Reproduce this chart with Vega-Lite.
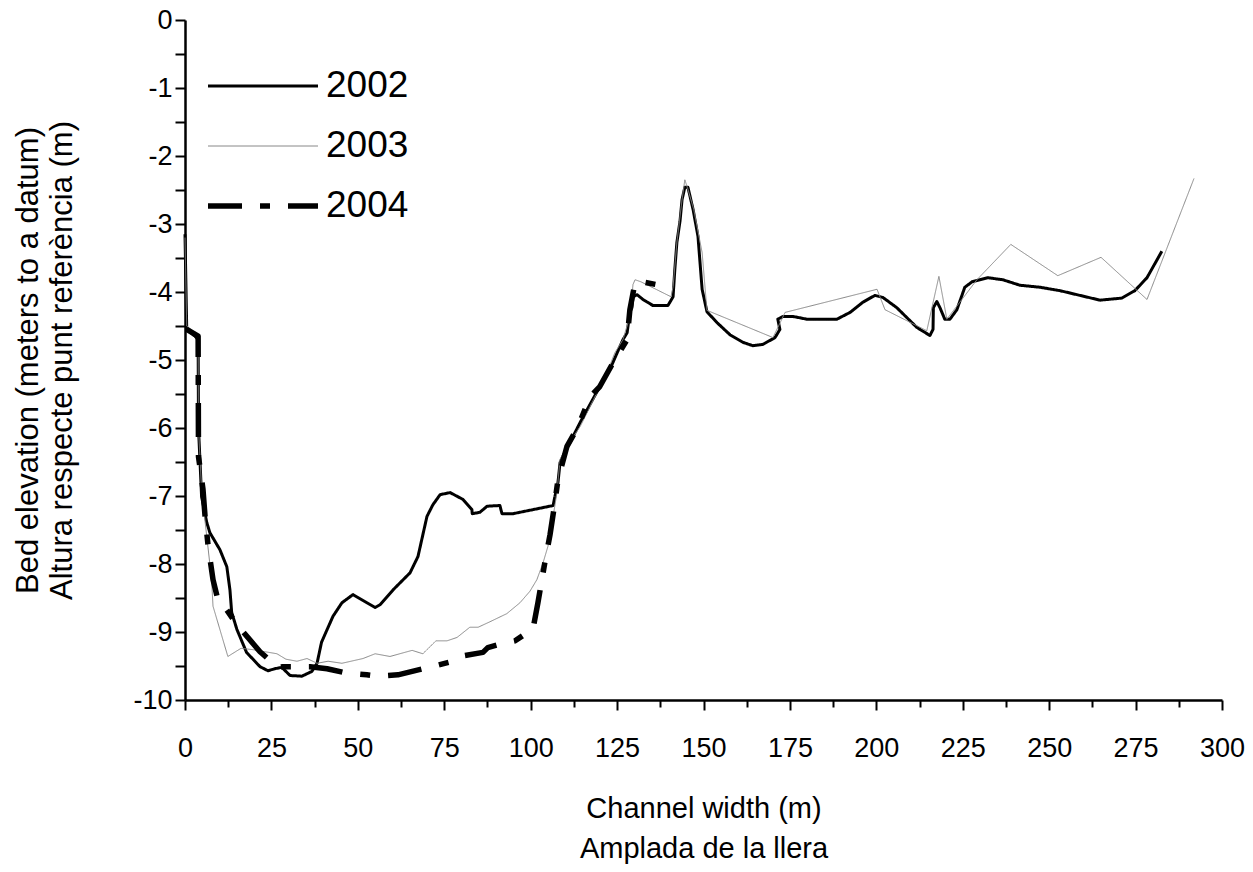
{
  "$schema": "https://vega.github.io/schema/vega-lite/v6.json",
  "width": 1037,
  "height": 680,
  "autosize": {"type": "none"},
  "padding": {"left": 185, "top": 20, "right": 31, "bottom": 172},
  "background": "white",
  "config": {
    "view": {"stroke": null},
    "font": "Liberation Sans",
    "axis": {"labelFont": "Liberation Sans", "titleFont": "Liberation Sans", "labelColor": "black", "titleColor": "black", "domainColor": "black", "tickColor": "black", "grid": false, "titleFontWeight": "normal"}
  },
  "data": {"values": [
    {"year":"2002","x":0,"y":-3.15},{"year":"2002","x":0.5,"y":-4.55},{"year":"2002","x":2.9,"y":-4.65},{"year":"2002","x":3.8,"y":-4.7},{"year":"2002","x":3.9,"y":-6.0},{"year":"2002","x":4.8,"y":-7.01},{"year":"2002","x":6.3,"y":-7.39},{"year":"2002","x":7.2,"y":-7.54},{"year":"2002","x":10.1,"y":-7.79},{"year":"2002","x":12.1,"y":-8.04},{"year":"2002","x":13.0,"y":-8.38},{"year":"2002","x":13.5,"y":-8.71},{"year":"2002","x":15.0,"y":-8.96},{"year":"2002","x":17.8,"y":-9.3},{"year":"2002","x":21.7,"y":-9.51},{"year":"2002","x":24.0,"y":-9.57},{"year":"2002","x":26.0,"y":-9.54},{"year":"2002","x":28.0,"y":-9.52},{"year":"2002","x":30.4,"y":-9.64},{"year":"2002","x":33.8,"y":-9.65},{"year":"2002","x":36.7,"y":-9.58},{"year":"2002","x":38.2,"y":-9.46},{"year":"2002","x":39.5,"y":-9.15},{"year":"2002","x":42.8,"y":-8.77},{"year":"2002","x":45.4,"y":-8.57},{"year":"2002","x":48.6,"y":-8.45},{"year":"2002","x":52.6,"y":-8.57},{"year":"2002","x":55.0,"y":-8.64},{"year":"2002","x":56.4,"y":-8.6},{"year":"2002","x":60.2,"y":-8.38},{"year":"2002","x":65.1,"y":-8.13},{"year":"2002","x":67.4,"y":-7.89},{"year":"2002","x":70.0,"y":-7.3},{"year":"2002","x":71.7,"y":-7.13},{"year":"2002","x":73.8,"y":-6.98},{"year":"2002","x":76.7,"y":-6.95},{"year":"2002","x":80.4,"y":-7.05},{"year":"2002","x":83.0,"y":-7.2},{"year":"2002","x":83.1,"y":-7.26},{"year":"2002","x":85.3,"y":-7.24},{"year":"2002","x":87.4,"y":-7.15},{"year":"2002","x":91.1,"y":-7.14},{"year":"2002","x":91.7,"y":-7.26},{"year":"2002","x":94.9,"y":-7.26},{"year":"2002","x":100.7,"y":-7.2},{"year":"2002","x":106.5,"y":-7.14},{"year":"2002","x":107.0,"y":-7.01},{"year":"2002","x":107.9,"y":-6.8},{"year":"2002","x":108.5,"y":-6.51},{"year":"2002","x":109.3,"y":-6.42},{"year":"2002","x":111.4,"y":-6.21},{"year":"2002","x":114.3,"y":-5.92},{"year":"2002","x":120.0,"y":-5.39},{"year":"2002","x":122.9,"y":-5.14},{"year":"2002","x":126.7,"y":-4.7},{"year":"2002","x":127.9,"y":-4.6},{"year":"2002","x":128.7,"y":-4.3},{"year":"2002","x":129.3,"y":-4.23},{"year":"2002","x":129.6,"y":-4.07},{"year":"2002","x":130.8,"y":-4.04},{"year":"2002","x":132.5,"y":-4.11},{"year":"2002","x":135.4,"y":-4.2},{"year":"2002","x":139.7,"y":-4.2},{"year":"2002","x":141.2,"y":-4.07},{"year":"2002","x":141.7,"y":-3.67},{"year":"2002","x":142.3,"y":-3.27},{"year":"2002","x":143.2,"y":-2.96},{"year":"2002","x":143.8,"y":-2.64},{"year":"2002","x":144.6,"y":-2.46},{"year":"2002","x":145.5,"y":-2.46},{"year":"2002","x":147.0,"y":-2.79},{"year":"2002","x":148.4,"y":-3.18},{"year":"2002","x":149.6,"y":-3.96},{"year":"2002","x":151.0,"y":-4.29},{"year":"2002","x":153.9,"y":-4.45},{"year":"2002","x":157.7,"y":-4.63},{"year":"2002","x":161.4,"y":-4.74},{"year":"2002","x":164.3,"y":-4.79},{"year":"2002","x":167.2,"y":-4.77},{"year":"2002","x":170.7,"y":-4.67},{"year":"2002","x":172.1,"y":-4.55},{"year":"2002","x":171.5,"y":-4.4},{"year":"2002","x":173.0,"y":-4.36},{"year":"2002","x":175.9,"y":-4.36},{"year":"2002","x":179.9,"y":-4.4},{"year":"2002","x":188.6,"y":-4.4},{"year":"2002","x":192.4,"y":-4.3},{"year":"2002","x":196.1,"y":-4.15},{"year":"2002","x":199.6,"y":-4.05},{"year":"2002","x":201.9,"y":-4.08},{"year":"2002","x":205.9,"y":-4.23},{"year":"2002","x":211.7,"y":-4.52},{"year":"2002","x":215.5,"y":-4.64},{"year":"2002","x":216.4,"y":-4.55},{"year":"2002","x":216.5,"y":-4.23},{"year":"2002","x":217.5,"y":-4.14},{"year":"2002","x":218.4,"y":-4.23},{"year":"2002","x":219.8,"y":-4.4},{"year":"2002","x":221.3,"y":-4.4},{"year":"2002","x":223.3,"y":-4.26},{"year":"2002","x":225.6,"y":-3.93},{"year":"2002","x":227.7,"y":-3.85},{"year":"2002","x":232.3,"y":-3.79},{"year":"2002","x":236.6,"y":-3.82},{"year":"2002","x":241.5,"y":-3.9},{"year":"2002","x":247.3,"y":-3.93},{"year":"2002","x":253.1,"y":-3.98},{"year":"2002","x":258.9,"y":-4.05},{"year":"2002","x":264.7,"y":-4.12},{"year":"2002","x":271.0,"y":-4.09},{"year":"2002","x":274.8,"y":-3.98},{"year":"2002","x":278.3,"y":-3.79},{"year":"2002","x":282.6,"y":-3.4},
    {"year":"2003","x":0,"y":-3.2},{"year":"2003","x":0.5,"y":-4.5},{"year":"2003","x":2.9,"y":-4.6},{"year":"2003","x":3.8,"y":-4.65},{"year":"2003","x":3.9,"y":-6.0},{"year":"2003","x":4.8,"y":-6.9},{"year":"2003","x":5.2,"y":-7.1},{"year":"2003","x":7.7,"y":-8.23},{"year":"2003","x":8.1,"y":-8.62},{"year":"2003","x":12.4,"y":-9.36},{"year":"2003","x":16.2,"y":-9.24},{"year":"2003","x":19.7,"y":-9.26},{"year":"2003","x":26.6,"y":-9.32},{"year":"2003","x":29.2,"y":-9.4},{"year":"2003","x":32.4,"y":-9.43},{"year":"2003","x":35.3,"y":-9.39},{"year":"2003","x":38.2,"y":-9.46},{"year":"2003","x":41.4,"y":-9.43},{"year":"2003","x":45.4,"y":-9.46},{"year":"2003","x":51.5,"y":-9.39},{"year":"2003","x":55.0,"y":-9.32},{"year":"2003","x":59.3,"y":-9.36},{"year":"2003","x":65.7,"y":-9.27},{"year":"2003","x":68.8,"y":-9.32},{"year":"2003","x":72.6,"y":-9.13},{"year":"2003","x":75.8,"y":-9.13},{"year":"2003","x":78.7,"y":-9.08},{"year":"2003","x":82.4,"y":-8.93},{"year":"2003","x":84.8,"y":-8.93},{"year":"2003","x":88.2,"y":-8.85},{"year":"2003","x":93.1,"y":-8.73},{"year":"2003","x":96.9,"y":-8.57},{"year":"2003","x":99.8,"y":-8.4},{"year":"2003","x":101.8,"y":-8.23},{"year":"2003","x":103.6,"y":-7.98},{"year":"2003","x":105.0,"y":-7.74},{"year":"2003","x":106.5,"y":-7.3},{"year":"2003","x":107.6,"y":-6.95},{"year":"2003","x":108.5,"y":-6.46},{"year":"2003","x":110.5,"y":-6.27},{"year":"2003","x":114.3,"y":-5.98},{"year":"2003","x":119.2,"y":-5.48},{"year":"2003","x":122.1,"y":-5.18},{"year":"2003","x":124.4,"y":-4.89},{"year":"2003","x":126.7,"y":-4.7},{"year":"2003","x":128.7,"y":-4.36},{"year":"2003","x":129.6,"y":-3.89},{"year":"2003","x":130.2,"y":-3.82},{"year":"2003","x":131.9,"y":-3.85},{"year":"2003","x":140.6,"y":-4.07},{"year":"2003","x":141.2,"y":-3.92},{"year":"2003","x":142.3,"y":-3.27},{"year":"2003","x":143.8,"y":-2.64},{"year":"2003","x":144.6,"y":-2.35},{"year":"2003","x":145.5,"y":-2.49},{"year":"2003","x":147.2,"y":-2.79},{"year":"2003","x":149.6,"y":-3.42},{"year":"2003","x":151.0,"y":-4.27},{"year":"2003","x":170.1,"y":-4.67},{"year":"2003","x":173.6,"y":-4.3},{"year":"2003","x":200.2,"y":-3.96},{"year":"2003","x":202.5,"y":-4.26},{"year":"2003","x":214.6,"y":-4.57},{"year":"2003","x":218.1,"y":-3.77},{"year":"2003","x":220.4,"y":-4.4},{"year":"2003","x":229.1,"y":-3.82},{"year":"2003","x":238.9,"y":-3.3},{"year":"2003","x":252.5,"y":-3.76},{"year":"2003","x":265.0,"y":-3.49},{"year":"2003","x":278.3,"y":-4.11},{"year":"2003","x":291.9,"y":-2.33},
    {"year":"2004","x":0.5,"y":-4.55},{"year":"2004","x":3.8,"y":-4.65},{"year":"2004","x":3.9,"y":-6.42},{"year":"2004","x":5.2,"y":-6.9},{"year":"2004","x":5.8,"y":-7.3},{"year":"2004","x":6.7,"y":-7.74},{"year":"2004","x":8.1,"y":-8.23},{"year":"2004","x":9.5,"y":-8.52},{"year":"2004","x":11.6,"y":-8.64},{"year":"2004","x":15.0,"y":-8.89},{"year":"2004","x":21.7,"y":-9.29},{"year":"2004","x":26.9,"y":-9.52},{"year":"2004","x":28.3,"y":-9.51},{"year":"2004","x":36.2,"y":-9.51},{"year":"2004","x":41.1,"y":-9.54},{"year":"2004","x":46.3,"y":-9.6},{"year":"2004","x":52.6,"y":-9.63},{"year":"2004","x":55.5,"y":-9.65},{"year":"2004","x":61.6,"y":-9.63},{"year":"2004","x":71.4,"y":-9.51},{"year":"2004","x":77.5,"y":-9.43},{"year":"2004","x":80.4,"y":-9.35},{"year":"2004","x":86.2,"y":-9.3},{"year":"2004","x":87.6,"y":-9.23},{"year":"2004","x":91.1,"y":-9.18},{"year":"2004","x":95.5,"y":-9.13},{"year":"2004","x":100.7,"y":-8.95},{"year":"2004","x":102.1,"y":-8.57},{"year":"2004","x":104.1,"y":-7.98},{"year":"2004","x":105.6,"y":-7.57},{"year":"2004","x":107.0,"y":-7.1},{"year":"2004","x":107.9,"y":-6.76},{"year":"2004","x":110.5,"y":-6.27},{"year":"2004","x":113.7,"y":-5.98},{"year":"2004","x":117.2,"y":-5.54},{"year":"2004","x":120.0,"y":-5.39},{"year":"2004","x":123.5,"y":-5.07},{"year":"2004","x":127.9,"y":-4.7},{"year":"2004","x":128.7,"y":-4.26},{"year":"2004","x":130.2,"y":-3.86},{"year":"2004","x":132.2,"y":-3.85},{"year":"2004","x":139.4,"y":-3.92}
  ]},
  "mark": {"type": "line", "strokeCap": "butt", "strokeJoin": "round"},
  "encoding": {
    "x": {
      "field": "x", "type": "quantitative",
      "scale": {"domain": [0, 300], "nice": false, "zero": false},
      "axis": {
        "values": [0,12.5,25,37.5,50,62.5,75,87.5,100,112.5,125,137.5,150,162.5,175,187.5,200,212.5,225,237.5,250,262.5,275,287.5,300],
        "labelExpr": "datum.value % 25 === 0 ? '' + datum.value : ''",
        "tickSize": {"condition": {"test": "datum.value % 25 === 0", "value": 10}, "value": 7},
        "tickWidth": 2, "domainWidth": 2.5,
        "labelFontSize": 27, "labelPadding": 25, "labelFlush": false,
        "title": ["Channel width (m)", "Amplada de la llera"],
        "titleFontSize": 29, "titleLineHeight": 40, "titlePadding": 33
      }
    },
    "y": {
      "field": "y", "type": "quantitative",
      "scale": {"domain": [-10, 0], "nice": false, "zero": false},
      "axis": {
        "values": [-10,-9.5,-9,-8.5,-8,-7.5,-7,-6.5,-6,-5.5,-5,-4.5,-4,-3.5,-3,-2.5,-2,-1.5,-1,-0.5,0],
        "labelExpr": "datum.value % 1 === 0 ? '' + datum.value : ''",
        "tickSize": 10, "tickWidth": 2, "domainWidth": 2.5,
        "labelFontSize": 27, "labelPadding": 3, "labelFlush": false,
        "title": ["Bed elevation (meters to a datum)", "Altura respecte punt referència (m)"],
        "titleFontSize": 31, "titleLineHeight": 34, "titlePadding": 54
      }
    },
    "color": {
      "field": "year", "type": "nominal",
      "scale": {"domain": ["2002", "2003", "2004"], "range": ["#000000", "#888888", "#000000"]},
      "legend": {
        "title": null, "orient": "none", "legendX": 20, "legendY": 46,
        "symbolSize": 12100, "clipHeight": 40, "rowPadding": 20, "labelOffset": 5,
        "labelFontSize": 37, "labelFont": "Liberation Sans", "labelColor": "black", "padding": 0
      }
    },
    "strokeDash": {
      "field": "year", "type": "nominal",
      "scale": {"domain": ["2002", "2003", "2004"], "range": [[1, 0], [1, 0], [34, 18, 10, 18]]}
    },
    "strokeWidth": {
      "field": "year", "type": "nominal",
      "scale": {"type": "ordinal", "domain": ["2002", "2003", "2004"], "range": [3, 1, 5.5]}
    },
    "order": {"value": null}
  }
}
